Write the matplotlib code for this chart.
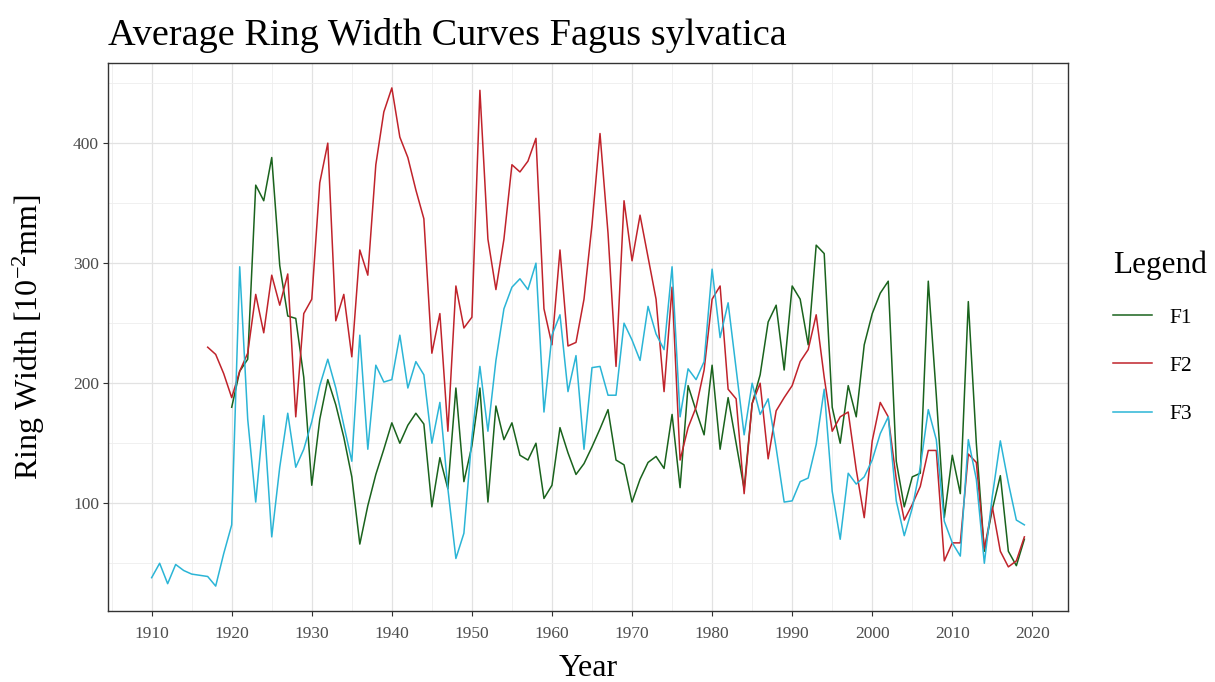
import matplotlib.pyplot as plt
from matplotlib.ticker import MultipleLocator

plt.rcParams['font.family'] = ['Liberation Serif', 'DejaVu Serif']
plt.rcParams['mathtext.fontset'] = 'custom'
plt.rcParams['mathtext.rm'] = 'Liberation Serif'
plt.rcParams['mathtext.it'] = 'Liberation Serif:italic'

# mittlere Jahrringbreiten
years_f1 = list(range(1920, 2020))
f1 = [180, 210, 220, 365, 352, 388, 298, 256, 254, 205,
      115, 170, 203, 182, 155, 122, 66, 98, 124, 145,
      167, 150, 165, 175, 166, 97, 138, 112, 196, 118,
      148, 196, 101, 181, 153, 167, 140, 136, 150, 104,
      115, 163, 142, 124, 133, 147, 162, 178, 136, 132,
      101, 120, 134, 139, 129, 174, 113, 198, 177, 157,
      215, 145, 188, 150, 112, 183, 207, 251, 265, 211,
      281, 270, 232, 315, 308, 180, 150, 198, 172, 232,
      258, 275, 285, 135, 97, 122, 125, 285, 190, 88,
      140, 108, 268, 150, 60, 95, 123, 60, 48, 70]

years_f2 = list(range(1917, 2020))
f2 = [230, 224, 208,
      188, 210, 225, 274, 242, 290, 265, 291, 172, 258,
      270, 367, 400, 252, 274, 222, 311, 290, 382, 426,
      446, 405, 388, 361, 337, 225, 258, 160, 281, 246,
      255, 444, 320, 278, 320, 382, 376, 385, 404, 262,
      232, 311, 231, 234, 270, 332, 408, 325, 214, 352,
      302, 340, 305, 270, 193, 280, 136, 163, 180, 211,
      270, 281, 195, 187, 108, 183, 200, 137, 177, 188,
      198, 218, 228, 257, 205, 160, 172, 176, 128, 88,
      152, 184, 172, 120, 86, 99, 114, 144, 144, 52,
      67, 67, 141, 134, 62, 97, 60, 47, 52, 72]

years_f3 = list(range(1910, 2020))
f3 = [38, 50, 33, 49, 44, 41, 40, 39, 31, 58,
      82, 297, 170, 101, 173, 72, 130, 175, 130, 145,
      168, 198, 220, 196, 165, 135, 240, 145, 215, 201,
      203, 240, 196, 218, 207, 150, 184, 112, 54, 75,
      155, 214, 160, 219, 262, 280, 287, 278, 300, 176,
      240, 257, 193, 223, 145, 213, 214, 190, 190, 250,
      236, 219, 264, 241, 228, 297, 172, 212, 203, 218,
      295, 238, 267, 212, 157, 200, 174, 187, 146, 101,
      102, 118, 121, 149, 195, 110, 70, 125, 116, 122,
      136, 158, 172, 102, 73, 96, 130, 178, 153, 85,
      67, 56, 153, 120, 50, 106, 152, 117, 86, 82]

labels = ['F1', 'F2', 'F3']
colors = ['#1a631d', '#c0232b', '#2bb5d6']

fig = plt.figure(figsize=(12.15, 6.82), dpi=100)
ax = fig.add_axes([108 / 1215, 1 - 611 / 682, 960 / 1215, 548 / 682])

for x, y, name, c in zip([years_f1, years_f2, years_f3], [f1, f2, f3], labels, colors):
    ax.plot(x, y, color=c, linewidth=1.1, label=name)

# 5% Rand wie bei ggplot
all_y = f1 + f2 + f3
pad = (max(all_y) - min(all_y)) * 0.05
ax.set_ylim(min(all_y) - pad, max(all_y) + pad)
xpad = (2019 - 1910) * 0.05
ax.set_xlim(1910 - xpad, 2019 + xpad)

ax.xaxis.set_major_locator(MultipleLocator(10))
ax.xaxis.set_minor_locator(MultipleLocator(5))
ax.yaxis.set_major_locator(MultipleLocator(100))
ax.yaxis.set_minor_locator(MultipleLocator(50))
ax.grid(which='major', color='#e2e2e2', linewidth=0.9)
ax.grid(which='minor', color='#eeeeee', linewidth=0.6)
ax.set_axisbelow(True)
ax.tick_params(which='minor', length=0)
ax.tick_params(which='major', length=3.5, width=0.8, color='#333333',
               labelsize=12.5, labelcolor='#4d4d4d')
ax.tick_params(axis='x', pad=7.5)
ax.tick_params(axis='y', pad=3)
for s in ax.spines.values():
    s.set_color('#333333')
    s.set_linewidth(1.0)

ax.set_xlabel('Year', fontsize=23)
ax.xaxis.set_label_coords(0.5, -0.079)
ax.set_ylabel(r'Ring Width [$\mathrm{10^{-2}}$mm]', fontsize=23)
ax.yaxis.set_label_coords(-0.064, 0.5)

fig.text(108 / 1215, 1 - 45 / 682, 'Average Ring Width Curves Fagus sylvatica',
         fontsize=27.5, ha='left', va='baseline')

fig.legend(loc='upper left', bbox_to_anchor=(1094 / 1215, 1 - 231 / 682),
           frameon=False, title='Legend', fontsize=15.5, title_fontsize=22.5,
           handlelength=1.8, handletextpad=0.8, labelspacing=1.3,
           alignment='left')

plt.savefig('out.png', dpi=100)
